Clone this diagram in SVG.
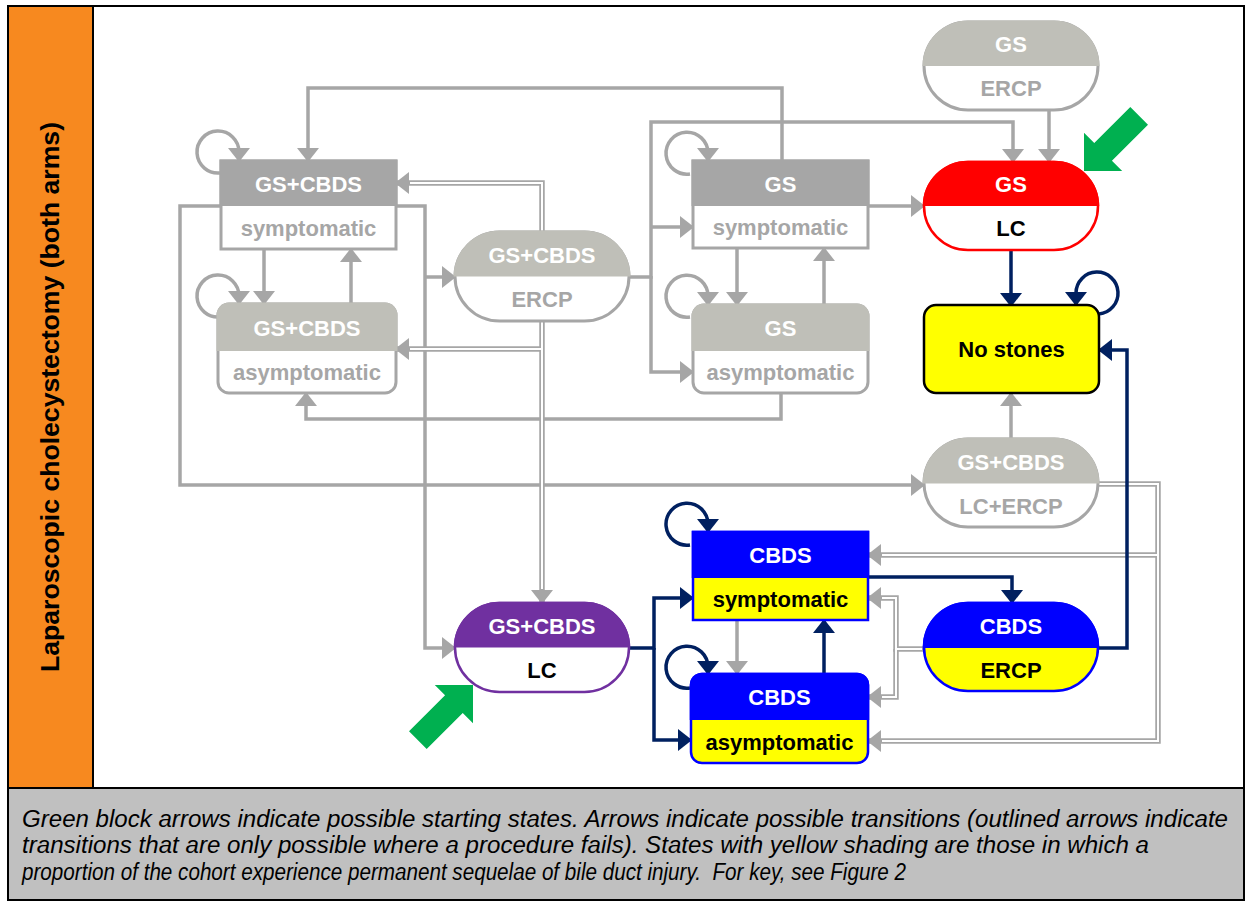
<svg xmlns="http://www.w3.org/2000/svg" width="1253" height="904" viewBox="0 0 1253 904">
<style>
.t{font-family:'Liberation Sans',Arial,sans-serif;font-weight:bold;font-size:22px;text-anchor:middle}
.w{fill:#fff}.tg{fill:#a6a6a6}.tk{fill:#000}
.g{fill:none;stroke:#a6a6a6;stroke-width:3.5}
.n{fill:none;stroke:#002060;stroke-width:3.5}
.dO{fill:none;stroke:#a6a6a6;stroke-width:5.5}
.dI{fill:none;stroke:#fff;stroke-width:2}
.gb{fill:#fff;stroke:#a6a6a6;stroke-width:3}
.cap{font-family:'Liberation Sans',Arial,sans-serif;font-style:italic;font-size:23px;fill:#000}
</style>
<defs>
<marker id="ag" markerUnits="userSpaceOnUse" viewBox="0 0 14 22" refX="13" refY="11" markerWidth="14" markerHeight="22" orient="auto"><path d="M0,0L14,11L0,22z" fill="#a6a6a6"/></marker>
<marker id="an" markerUnits="userSpaceOnUse" viewBox="0 0 14 22" refX="13" refY="11" markerWidth="14" markerHeight="22" orient="auto"><path d="M0,0L14,11L0,22z" fill="#002060"/></marker>
<polygon id="greenArrow" points="0,0 -27,-27 -27,-12.5 -78,-12.5 -78,12.5 -27,12.5 -27,27" fill="#00b050"/>
</defs>
<rect x="0" y="0" width="1253" height="904" fill="#fff"/>
<g id="frame">
<rect x="9" y="7" width="84" height="780" fill="#f7891f"/>
<rect x="9" y="788" width="1234" height="111" fill="#c0c0c0"/>
<rect x="8" y="6" width="1236" height="894" fill="none" stroke="#000" stroke-width="2"/>
<line x1="93" y1="6" x2="93" y2="788" stroke="#000" stroke-width="2"/>
<line x1="8" y1="788" x2="1244" y2="788" stroke="#000" stroke-width="2"/>
<text transform="translate(59,397) rotate(-90)" font-family="'Liberation Sans',Arial,sans-serif" font-weight="bold" font-size="26" text-anchor="middle" textLength="550" lengthAdjust="spacingAndGlyphs">Laparoscopic cholecystectomy (both arms)</text>
</g>
<g id="caption">
<text class="cap" x="22" y="827" textLength="1206" lengthAdjust="spacingAndGlyphs">Green block arrows indicate possible starting states. Arrows indicate possible transitions (outlined arrows indicate</text>
<text class="cap" x="22" y="853" textLength="1127" lengthAdjust="spacingAndGlyphs">transitions that are only possible where a procedure fails). States with yellow shading are those in which a</text>
<text class="cap" x="22" y="880" textLength="884" lengthAdjust="spacingAndGlyphs" xml:space="preserve">proportion of the cohort experience permanent sequelae of bile duct injury.  For key, see Figure 2</text>
</g>
<g id="connectors">
<g marker-end="url(#ag)">
<path class="g" d="M220 173A21 21 0 1 1 239 152L239 161"/>
<path class="g" d="M220 317A21 21 0 1 1 239 296L239 304"/>
<path class="g" d="M264 249V304"/>
<path class="g" d="M351 304V249"/>
<path class="g" d="M782 161V88H308V161"/>
<path class="g" d="M629 277H651V122H1013V162"/>
<path class="g" d="M651 276V372H693"/>
<path class="g" d="M651 227H693"/>
<path class="g" d="M1049 110V162"/>
<path class="g" d="M690 174A21 21 0 1 1 708 153L708 161"/>
<path class="g" d="M690 317A21 21 0 1 1 708 296L708 305"/>
<path class="g" d="M737 248V305"/>
<path class="g" d="M824 305V248"/>
<path class="g" d="M868 206H924"/>
<path class="g" d="M781 393V419H306V393"/>
<path class="g" d="M221 206H180V485H924"/>
<path class="g" d="M396 206H425V648H455"/>
<path class="g" d="M425 277H455"/>
<path class="g" d="M1011 439V393"/>
<path class="g" d="M737 620V674"/>
<path class="dO" d="M542 232V183H396"/>
<path class="dO" d="M542 321V603"/>
<path class="dO" d="M542 349H396"/>
<path class="dO" d="M1097 484H1158V741H868"/>
<path class="dO" d="M1158 555H868"/>
<path class="dO" d="M924 649H896V598H868"/>
<path class="dO" d="M896 649V697H868"/>
</g>
<path class="dI" d="M542 234V183H410"/>
<path class="dI" d="M542 319V589"/>
<path class="dI" d="M542 349H410"/>
<path class="dI" d="M1095 484H1158V741H882"/>
<path class="dI" d="M1158 555H882"/>
<path class="dI" d="M922 649H896V598H882"/>
<path class="dI" d="M896 649V697H882"/>
<g marker-end="url(#an)">
<path class="n" d="M1011 250V306"/>
<path class="n" d="M1099 314A21 21 0 1 0 1076 293L1076 305"/>
<path class="n" d="M1097 648H1127V350H1099"/>
<path class="n" d="M868 577H1012V603"/>
<path class="n" d="M629 648H654V598H693"/>
<path class="n" d="M654 648V740H691"/>
<path class="n" d="M690 545A21 21 0 1 1 708 524L708 532"/>
<path class="n" d="M690 688A21 21 0 1 1 708 667L708 674"/>
<path class="n" d="M824 674V620"/>
</g>
</g>
<g id="node-gscbds-symptomatic">
<rect class="gb" x="221" y="161" width="175" height="88"/>
<rect x="219.5" y="159.5" width="178" height="46.5" fill="#a6a6a6"/>
<text class="t w" x="308.5" y="192">GS+CBDS</text>
<text class="t tg" x="308.5" y="236">symptomatic</text>
</g>
<g id="node-gscbds-asymptomatic">
<rect class="gb" x="218" y="304" width="178" height="89" rx="11"/>
<path d="M216.5 351V315A12.5 12.5 0 0 1 229 302.5H385A12.5 12.5 0 0 1 397.5 315V351Z" fill="#bfbfb8"/>
<text class="t w" x="307" y="336">GS+CBDS</text>
<text class="t tg" x="307" y="380">asymptomatic</text>
</g>
<g id="node-gscbds-ercp">
<rect class="gb" x="455" y="232" width="174" height="89" rx="44.5"/>
<path d="M453.5 276.5A46 46 0 0 1 499.5 230.5H584.5A46 46 0 0 1 630.5 276.5Z" fill="#bfbfb8"/>
<text class="t w" x="542" y="263">GS+CBDS</text>
<text class="t tg" x="542" y="307">ERCP</text>
</g>
<g id="node-gs-symptomatic">
<rect class="gb" x="693" y="161" width="175" height="87"/>
<rect x="691.5" y="159.5" width="178" height="46.5" fill="#a6a6a6"/>
<text class="t w" x="780.5" y="192">GS</text>
<text class="t tg" x="780.5" y="235">symptomatic</text>
</g>
<g id="node-gs-asymptomatic">
<rect class="gb" x="693" y="305" width="175" height="88" rx="11"/>
<path d="M691.5 351V316A12.5 12.5 0 0 1 704 303.5H857A12.5 12.5 0 0 1 869.5 316V351Z" fill="#bfbfb8"/>
<text class="t w" x="780.5" y="336">GS</text>
<text class="t tg" x="780.5" y="380">asymptomatic</text>
</g>
<g id="node-gs-ercp">
<rect class="gb" x="924" y="22" width="174" height="88" rx="44"/>
<path d="M922.5 66A45.5 45.5 0 0 1 968 20.5H1054A45.5 45.5 0 0 1 1099.5 66Z" fill="#bfbfb8"/>
<text class="t w" x="1011" y="52">GS</text>
<text class="t tg" x="1011" y="96">ERCP</text>
</g>
<g id="node-gs-lc">
<rect x="924" y="162" width="174" height="88" rx="44" fill="#fff" stroke="#ff0000" stroke-width="2.5"/>
<path d="M922.75 206A45.25 45.25 0 0 1 968 160.75H1054A45.25 45.25 0 0 1 1099.25 206Z" fill="#ff0000"/>
<text class="t w" x="1011" y="192">GS</text>
<text class="t tk" x="1011" y="236">LC</text>
</g>
<g id="node-no-stones">
<rect x="924" y="305" width="175" height="88" rx="12" fill="#ffff00" stroke="#000" stroke-width="2.5"/>
<text class="t tk" x="1011.5" y="357">No stones</text>
</g>
<g id="node-gscbds-lc-ercp">
<rect class="gb" x="924" y="439" width="174" height="88" rx="44"/>
<path d="M922.5 483.5A45.5 45.5 0 0 1 968 437.5H1054A45.5 45.5 0 0 1 1099.5 483.5Z" fill="#bfbfb8"/>
<text class="t w" x="1011" y="470">GS+CBDS</text>
<text class="t tg" x="1011" y="514">LC+ERCP</text>
</g>
<g id="node-cbds-symptomatic">
<rect x="693" y="532" width="175" height="88" fill="#ffff00" stroke="#0000ff" stroke-width="2.5"/>
<rect x="691.75" y="530.75" width="177.5" height="47.25" fill="#0000ff"/>
<text class="t w" x="780.5" y="563">CBDS</text>
<text class="t tk" x="780.5" y="607">symptomatic</text>
</g>
<g id="node-cbds-asymptomatic">
<rect x="691" y="674" width="177" height="89" rx="11" fill="#ffff00" stroke="#0000ff" stroke-width="2.5"/>
<path d="M689.75 720V685A12.25 12.25 0 0 1 702 672.75H857A12.25 12.25 0 0 1 869.25 685V720Z" fill="#0000ff"/>
<text class="t w" x="779.5" y="705">CBDS</text>
<text class="t tk" x="779.5" y="750">asymptomatic</text>
</g>
<g id="node-cbds-ercp">
<rect x="924" y="603" width="174" height="88" rx="44" fill="#ffff00" stroke="#0000ff" stroke-width="2.5"/>
<path d="M922.75 648A45.25 45.25 0 0 1 968 601.75H1054A45.25 45.25 0 0 1 1099.25 648Z" fill="#0000ff"/>
<text class="t w" x="1011" y="634">CBDS</text>
<text class="t tk" x="1011" y="678">ERCP</text>
</g>
<g id="node-gscbds-lc">
<rect x="455" y="603" width="174" height="89" rx="44.5" fill="#fff" stroke="#7030a0" stroke-width="2.5"/>
<path d="M453.75 647.5A45.75 45.75 0 0 1 499.5 601.75H584.5A45.75 45.75 0 0 1 630.25 647.5Z" fill="#7030a0"/>
<text class="t w" x="542" y="634">GS+CBDS</text>
<text class="t tk" x="542" y="678">LC</text>
</g>
<g id="start-arrows">
<use href="#greenArrow" transform="translate(1084,171) rotate(135)"/>
<use href="#greenArrow" transform="translate(473,685) rotate(-45)"/>
</g>
</svg>
